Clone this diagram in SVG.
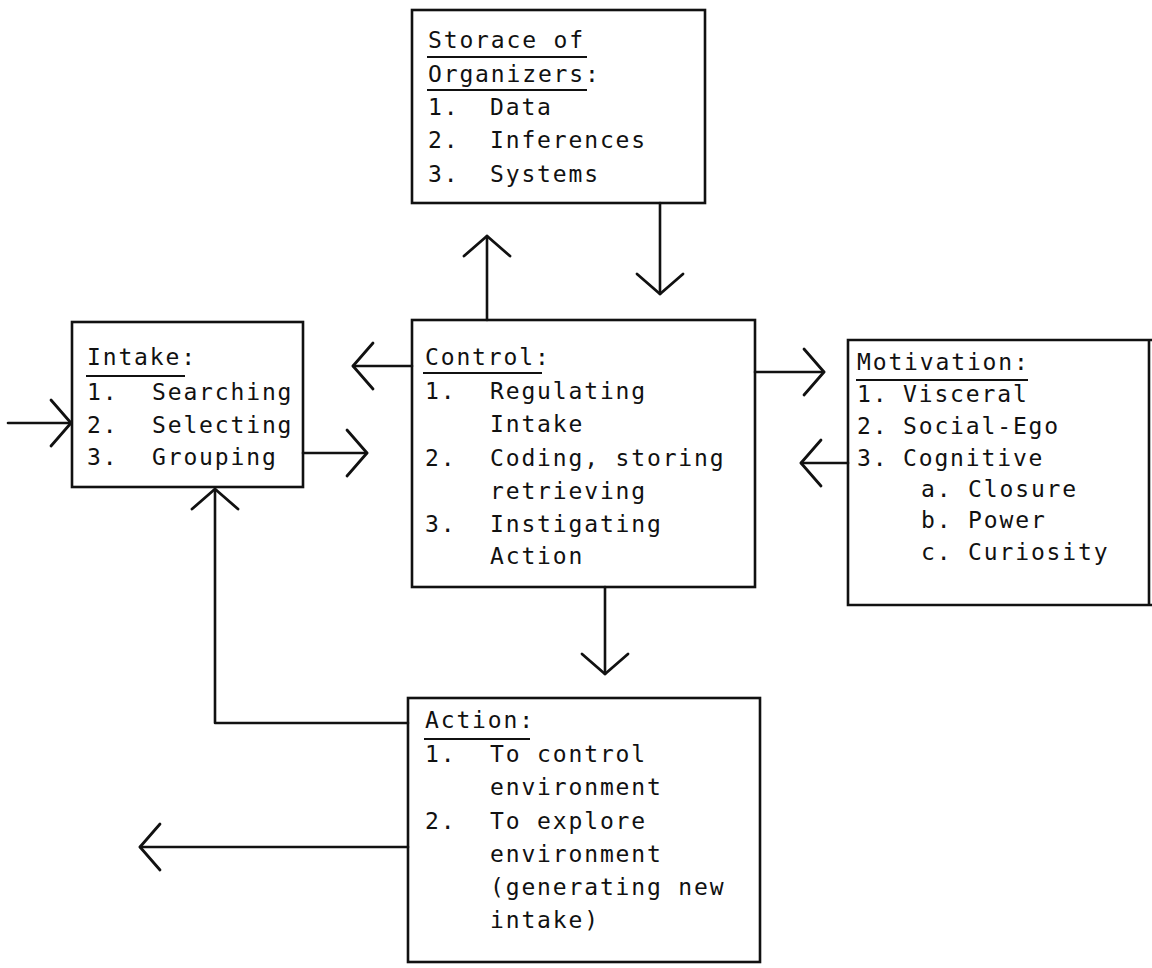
<svg xmlns="http://www.w3.org/2000/svg" width="1152" height="968" viewBox="0 0 1152 968">
<style>
.box{fill:none;stroke:#111;stroke-width:2.6}
.ul{stroke:#111;stroke-width:2}
.t{font-family:"DejaVu Sans Mono","Liberation Mono",monospace;font-size:23px;letter-spacing:1.85px;fill:#111}
.c{fill:none;stroke:#111;stroke-width:2.6;stroke-linecap:round;stroke-linejoin:round}
</style>
<defs>
<marker id="v" markerUnits="userSpaceOnUse" viewBox="-30 -28 34 56" refX="0" refY="0" markerWidth="34" markerHeight="56" orient="auto" overflow="visible">
<path d="M-20,-23 L0,0 L-20,23" fill="none" stroke="#111" stroke-width="2.8" stroke-linecap="round" stroke-linejoin="round"/>
</marker>
</defs>
<rect width="1152" height="968" fill="#fff"/>

<g id="storage">
<rect class="box" x="412" y="10" width="293" height="193"/>
<text class="t" x="428" y="48">Storace of</text>
<line class="ul" x1="427" y1="57" x2="587" y2="57"/>
<text class="t" x="428" y="82">Organizers:</text>
<line class="ul" x1="427" y1="90" x2="587" y2="90"/>
<text class="t" x="428" y="115">1.</text><text class="t" x="490" y="115">Data</text>
<text class="t" x="428" y="148">2.</text><text class="t" x="490" y="148">Inferences</text>
<text class="t" x="428" y="182">3.</text><text class="t" x="490" y="182">Systems</text>
</g>

<g id="intake">
<rect class="box" x="72" y="322" width="231" height="165"/>
<text class="t" x="87" y="365">Intake:</text>
<line class="ul" x1="86" y1="376" x2="185" y2="376"/>
<text class="t" x="87" y="400">1.</text><text class="t" x="152" y="400">Searching</text>
<text class="t" x="87" y="433">2.</text><text class="t" x="152" y="433">Selecting</text>
<text class="t" x="87" y="465">3.</text><text class="t" x="152" y="465">Grouping</text>
</g>

<g id="control">
<rect class="box" x="412" y="320" width="343" height="267"/>
<text class="t" x="425" y="365">Control:</text>
<line class="ul" x1="423" y1="373" x2="542" y2="373"/>
<text class="t" x="425" y="399">1.</text><text class="t" x="490" y="399">Regulating</text>
<text class="t" x="490" y="432">Intake</text>
<text class="t" x="425" y="466">2.</text><text class="t" x="490" y="466">Coding, storing</text>
<text class="t" x="490" y="499">retrieving</text>
<text class="t" x="425" y="532">3.</text><text class="t" x="490" y="532">Instigating</text>
<text class="t" x="490" y="564">Action</text>
</g>

<g id="motivation">
<path class="box" d="M1152,340 L848,340 L848,605 L1152,605 M1149,340 L1149,605"/>
<text class="t" x="857" y="370">Motivation:</text>
<line class="ul" x1="856" y1="380" x2="1028" y2="380"/>
<text class="t" x="857" y="402">1.</text><text class="t" x="903" y="402">Visceral</text>
<text class="t" x="857" y="434">2.</text><text class="t" x="903" y="434">Social-Ego</text>
<text class="t" x="857" y="466">3.</text><text class="t" x="903" y="466">Cognitive</text>
<text class="t" x="921" y="497">a. Closure</text>
<text class="t" x="921" y="528">b. Power</text>
<text class="t" x="921" y="560">c. Curiosity</text>
</g>

<g id="action">
<rect class="box" x="408" y="698" width="352" height="264"/>
<text class="t" x="425" y="728">Action:</text>
<line class="ul" x1="424" y1="739" x2="530" y2="739"/>
<text class="t" x="425" y="762">1.</text><text class="t" x="490" y="762">To control</text>
<text class="t" x="490" y="795">environment</text>
<text class="t" x="425" y="829">2.</text><text class="t" x="490" y="829">To explore</text>
<text class="t" x="490" y="862">environment</text>
<text class="t" x="490" y="895">(generating new</text>
<text class="t" x="490" y="928">intake)</text>
</g>

<g id="connectors">
<path class="c" d="M487,320 L487,236" marker-end="url(#v)"/>
<path class="c" d="M660,203 L660,294" marker-end="url(#v)"/>
<path class="c" d="M412,366 L353,366" marker-end="url(#v)"/>
<path class="c" d="M303,453 L367,453" marker-end="url(#v)"/>
<path class="c" d="M8,423 L71,423" marker-end="url(#v)"/>
<path class="c" d="M755,372 L824,372" marker-end="url(#v)"/>
<path class="c" d="M848,463 L801,463" marker-end="url(#v)"/>
<path class="c" d="M605,587 L605,674" marker-end="url(#v)"/>
<path class="c" d="M408,723 L215,723 L215,489" marker-end="url(#v)"/>
<path class="c" d="M408,847 L140,847" marker-end="url(#v)"/>
</g>
</svg>
